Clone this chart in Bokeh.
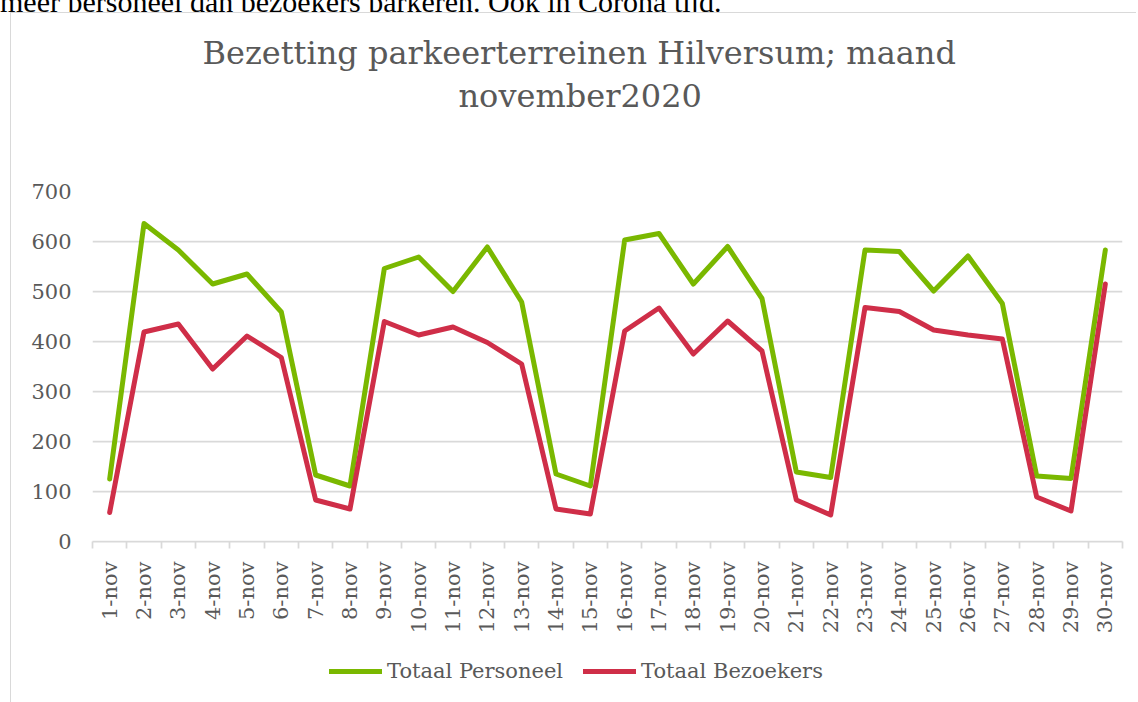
import numpy as np
from bokeh.plotting import figure
from bokeh.layouts import column
from bokeh.models import Range1d, FixedTicker, Title, Legend, LegendItem, Div
from bokeh.embed import file_html
from bokeh.resources import INLINE

days = ["1-nov", "2-nov", "3-nov", "4-nov", "5-nov", "6-nov", "7-nov", "8-nov",
        "9-nov", "10-nov", "11-nov", "12-nov", "13-nov", "14-nov", "15-nov",
        "16-nov", "17-nov", "18-nov", "19-nov", "20-nov", "21-nov", "22-nov",
        "23-nov", "24-nov", "25-nov", "26-nov", "27-nov", "28-nov", "29-nov", "30-nov"]
personeel = [125, 636, 583, 515, 535, 459, 133, 111, 546, 569, 500, 589, 479, 135, 111,
             603, 616, 515, 590, 486, 139, 128, 583, 580, 501, 571, 476, 131, 126, 583]
bezoekers = [58, 419, 435, 345, 411, 368, 83, 65, 440, 413, 429, 398, 355, 65, 55,
             421, 467, 375, 441, 381, 83, 53, 468, 460, 423, 413, 405, 89, 61, 515]
y_ticks = [0, 100, 200, 300, 400, 500, 600, 700]
title_lines = ["Bezetting parkeerterreinen Hilversum; maand", "november2020"]
series_names = ["Totaal Personeel", "Totaal Bezoekers"]
page_text = "meer personeel dan bezoekers parkeren. Ook in Corona tijd."

FONT = "DejaVu Serif"
TXT = "#595959"
GRID = "#d9d9d9"
GREEN = "#7ab800"
RED = "#cf2e48"

n = len(days)
xs = list(range(1, n + 1))

p = figure(width=1125, height=628, x_range=Range1d(0.5, n + 0.5), y_range=Range1d(0, 700),
           output_backend="svg", toolbar_location=None,
           min_border_left=81, min_border_right=14, min_border_top=178, min_border_bottom=100)
p.outline_line_color = None
p.background_fill_color = "white"
p.border_fill_color = "white"

p.xgrid.visible = False
p.ygrid.grid_line_color = GRID
p.ygrid.grid_line_width = 1.75

p.yaxis.ticker = FixedTicker(ticks=y_ticks)
p.yaxis.axis_line_color = None
p.yaxis.major_tick_line_color = None
p.yaxis.minor_tick_line_color = None
p.yaxis.major_tick_out = 0
p.yaxis.major_label_standoff = 21
p.yaxis.major_label_text_font = FONT
p.yaxis.major_label_text_font_size = "21px"
p.yaxis.major_label_text_color = TXT

p.xaxis.ticker = FixedTicker(ticks=xs, minor_ticks=[i + 0.5 for i in range(0, n + 1)])
p.xaxis.major_label_overrides = {i + 1: d for i, d in enumerate(days)}
p.xaxis.major_label_orientation = np.pi / 2
p.xaxis.major_tick_out = 0
p.xaxis.major_tick_in = 0
p.xaxis.major_tick_line_color = None
p.xaxis.minor_tick_out = 7
p.xaxis.minor_tick_in = 0
p.xaxis.minor_tick_line_color = GRID
p.xaxis.minor_tick_line_width = 1.75
p.xaxis.axis_line_color = GRID
p.xaxis.axis_line_width = 1.75
p.xaxis.major_label_standoff = 13
p.xaxis.major_label_text_font = FONT
p.xaxis.major_label_text_font_size = "21px"
p.xaxis.major_label_text_color = TXT

p.line(xs, personeel, line_color=GREEN, line_width=5, line_join="round", line_cap="round")
p.line(xs, bezoekers, line_color=RED, line_width=5, line_join="round", line_cap="round")

# titles (first added is closest to the plot)
p.add_layout(Title(text=" ", text_font_size="1px", standoff=71), "above")
p.add_layout(Title(text=title_lines[1], align="left", offset=366, text_font=FONT,
                   text_font_size="32px", text_font_style="normal", text_color=TXT,
                   standoff=6), "above")
p.add_layout(Title(text=title_lines[0], align="left", offset=110, text_font=FONT,
                   text_font_size="32px", text_font_style="normal", text_color=TXT,
                   standoff=0), "above")

# legend strip
lg = figure(width=1125, height=61, x_range=Range1d(0, 1), y_range=Range1d(0, 1),
            output_backend="svg", toolbar_location=None, x_axis_type=None, y_axis_type=None,
            min_border=0)
lg.outline_line_color = None
lg.grid.visible = False
lg.background_fill_color = "white"
lg.border_fill_color = "white"
g1 = lg.line(x=[np.nan], y=[np.nan], line_color=GREEN, line_width=5, line_cap="round")
g2 = lg.line(x=[np.nan], y=[np.nan], line_color=RED, line_width=5, line_cap="round")
legend = Legend(items=[LegendItem(label=series_names[0], renderers=[g1]),
                       LegendItem(label=series_names[1], renderers=[g2])],
                location=(237, 19), orientation="horizontal",
                border_line_color=None, background_fill_alpha=0,
                padding=0, margin=0, spacing=20, glyph_width=53, glyph_height=20,
                label_standoff=5, label_text_font=FONT, label_text_font_size="21px",
                label_text_color=TXT)
lg.add_layout(legend)

chart = column(p, lg, spacing=0)
chart.styles = {"margin-left": "10px",
                "border-left": "1px solid #d9d9d9", "border-top": "1px solid #d9d9d9"}

top = Div(text=('<div style="font-family:\'Liberation Serif\';font-size:30px;line-height:30px;'
                'margin-top:-26px;color:#000;white-space:nowrap">' + page_text + '</div>'),
          width=1100, height=12, margin=0, styles={"overflow": "hidden"})

layout = column(top, chart, spacing=0)

open("out.html", "w").write(file_html(layout, INLINE))
